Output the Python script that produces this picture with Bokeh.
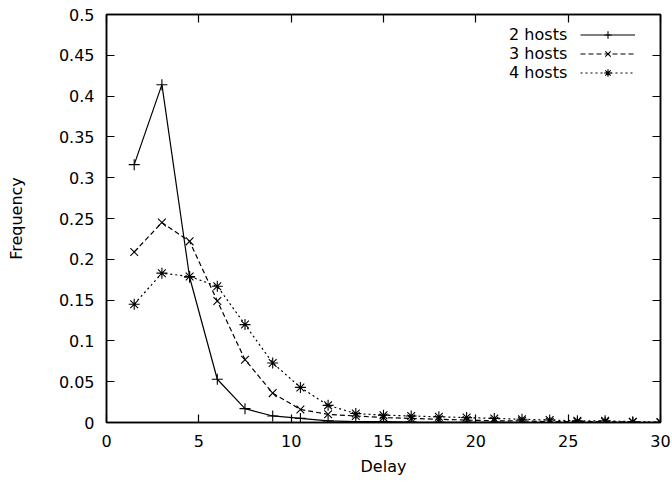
from bokeh.plotting import figure
from bokeh.models import (LinearAxis, FixedTicker, Legend, LegendItem, Label, Range1d,
                          CustomLabelingPolicy)
from bokeh.embed import file_html
from bokeh.resources import INLINE

# ---- data ----
delay = [1.5, 3.0, 4.5, 6.0, 7.5, 9.0, 10.5, 12.0, 13.5, 15.0,
         16.5, 18.0, 19.5, 21.0, 22.5, 24.0, 25.5, 27.0, 28.5, 30.0]
hosts2 = [0.316, 0.414, 0.178, 0.053, 0.017, 0.008, 0.005, 0.002, 0.001, 0.001,
          0.0005, 0.0003, 0.0002, 0.0001, 0.0, 0.0, 0.0, 0.0, 0.0, 0.0]
hosts3 = [0.209, 0.245, 0.222, 0.149, 0.077, 0.036, 0.016, 0.010, 0.008, 0.006,
          0.005, 0.004, 0.003, 0.002, 0.002, 0.001, 0.001, 0.001, 0.0005, 0.0]
hosts4 = [0.145, 0.183, 0.179, 0.167, 0.120, 0.073, 0.043, 0.021, 0.011, 0.009,
          0.008, 0.007, 0.006, 0.005, 0.004, 0.003, 0.002, 0.002, 0.001, 0.0005]
series_names = ["2 hosts", "3 hosts", "4 hosts"]

x_ticks = [0, 5, 10, 15, 20, 25, 30]
x_tick_labels = ["0", "5", "10", "15", "20", "25", "30"]
y_ticks = [0, 0.05, 0.1, 0.15, 0.2, 0.25, 0.3, 0.35, 0.4, 0.45, 0.5]
y_tick_labels = ["0", "0.05", "0.1", "0.15", "0.2", "0.25", "0.3", "0.35", "0.4", "0.45", "0.5"]

FONT = "DejaVu Sans"
FS = "16px"

p = figure(width=672, height=483, x_range=Range1d(0, 30), y_range=Range1d(0, 0.5),
           output_backend="svg", toolbar_location=None,
           min_border_left=106, min_border_right=12, min_border_top=14, min_border_bottom=61)
p.grid.visible = False
p.outline_line_color = "black"
p.outline_line_width = 1.5
p.background_fill_color = "white"
p.border_fill_color = "white"

hide_all = CustomLabelingPolicy(code="""
for (const i of indices)
  indices.unset(i)
""")


def style_axis(ax, ticks, labels, show_labels=True):
    ax.ticker = FixedTicker(ticks=ticks)
    ax.major_label_overrides = {t: l for t, l in zip(ticks, labels)}
    ax.major_tick_in = 8
    ax.major_tick_out = 0
    ax.minor_tick_in = 0
    ax.minor_tick_out = 0
    ax.axis_line_color = "black"
    ax.axis_line_width = 1.5
    ax.major_tick_line_color = "black"
    ax.major_tick_line_width = 1.2
    ax.major_label_text_font = FONT
    ax.major_label_text_color = "black"
    ax.axis_label_text_font = FONT
    ax.axis_label_text_font_size = FS
    ax.axis_label_text_font_style = "normal"
    ax.axis_label_text_color = "black"
    if show_labels:
        ax.major_label_text_font_size = FS
        ax.major_label_standoff = 12
    else:
        ax.major_label_text_font_size = "1px"
        ax.major_label_standoff = 0
        ax.major_label_policy = hide_all


style_axis(p.xaxis[0], x_ticks, x_tick_labels)
p.xaxis[0].axis_label = "Delay"
p.xaxis[0].axis_label_standoff = 7
style_axis(p.yaxis[0], y_ticks, y_tick_labels)
p.yaxis[0].axis_label = "Frequency"
p.yaxis[0].axis_label_standoff = 30

top = LinearAxis()
style_axis(top, x_ticks, x_tick_labels, show_labels=False)
p.add_layout(top, "above")
right = LinearAxis()
style_axis(right, y_ticks, y_tick_labels, show_labels=False)
p.add_layout(right, "right")

# ---- series ----
l2 = p.line(delay, hosts2, line_color="black", line_width=1.2)
m2 = p.scatter(delay, hosts2, marker="cross", size=11, line_color="black", line_width=1.1)
l3 = p.line(delay, hosts3, line_color="black", line_width=1.2, line_dash="5 3")
m3 = p.scatter(delay, hosts3, marker="x", size=11, line_color="black", line_width=1.1)
l4 = p.line(delay, hosts4, line_color="black", line_width=1.2, line_dash="2 3")
m4 = p.scatter(delay, hosts4, marker="asterisk", size=11, line_color="black", line_width=1.1)

legend = Legend(items=[LegendItem(label=" ", renderers=[l2, m2]),
                       LegendItem(label=" ", renderers=[l3, m3]),
                       LegendItem(label=" ", renderers=[l4, m4])],
                location=(474, 340), glyph_width=55, glyph_height=19,
                label_height=19, label_width=0, label_standoff=0,
                label_text_font=FONT, label_text_font_size=FS,
                padding=0, spacing=0, margin=0,
                border_line_color=None, background_fill_alpha=0)
p.add_layout(legend, "center")

row_y = [0.4751, 0.4518, 0.4286]
for name, yy in zip(series_names, row_y):
    p.add_layout(Label(x=24.95, y=yy, text=name, text_align="right", text_baseline="middle",
                       text_font=FONT, text_font_size=FS, text_color="black"))

open("out.html", "w").write(file_html(p, INLINE))
